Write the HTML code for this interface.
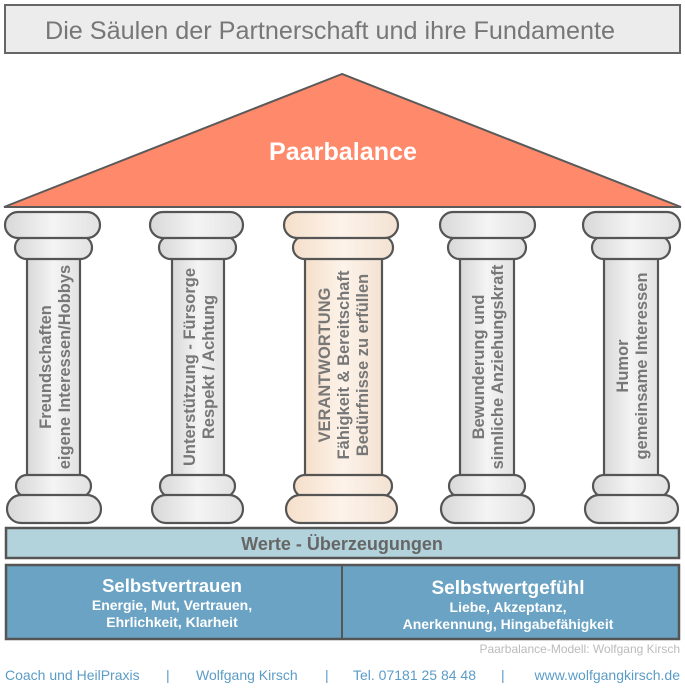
<!DOCTYPE html>
<html><head><meta charset="utf-8"><style>
html,body{margin:0;padding:0;background:#fff;}
svg{display:block;font-family:"Liberation Sans",Arial,sans-serif;}
</style></head><body>
<svg width="685" height="690" viewBox="0 0 685 690" xmlns="http://www.w3.org/2000/svg">
<defs>
<linearGradient id="g" x1="0" x2="1" y1="0" y2="0"><stop offset="0" stop-color="#d8d8d8"/><stop offset="0.5" stop-color="#f4f4f4"/><stop offset="1" stop-color="#e2e2e2"/></linearGradient>
<linearGradient id="p" x1="0" x2="1" y1="0" y2="0"><stop offset="0" stop-color="#f5dfca"/><stop offset="0.5" stop-color="#fdf3ea"/><stop offset="1" stop-color="#f3e2d2"/></linearGradient>
</defs>
<rect x="5" y="5" width="675" height="48" fill="#ececec" stroke="#666" stroke-width="2"/>
<text x="45" y="39" font-size="25" fill="#777" textLength="570" lengthAdjust="spacingAndGlyphs">Die Säulen der Partnerschaft und ihre Fundamente</text>
<polygon points="342,74 4,207 681,207" fill="#FF8A6B" stroke="#5a5a5a" stroke-width="2"/>
<text x="343" y="160" font-size="25" font-weight="bold" fill="#fff" text-anchor="middle" textLength="148" lengthAdjust="spacingAndGlyphs">Paarbalance</text>

<g stroke="#555" stroke-width="2.2" fill="url(#g)">
 <rect x="27" y="255" width="53" height="224"/>
 <rect x="15" y="236" width="77" height="23" rx="11.5"/><rect x="5" y="212" width="95" height="26" rx="13"/>
 <rect x="16" y="475" width="75" height="22" rx="11"/><rect x="7" y="495" width="94" height="28" rx="14"/>
 <rect x="172" y="255" width="52" height="224"/>
 <rect x="159" y="236" width="77" height="23" rx="11.5"/><rect x="150" y="212" width="93" height="26" rx="13"/>
 <rect x="160" y="475" width="75" height="22" rx="11"/><rect x="152" y="495" width="91" height="28" rx="14"/>
 <rect x="460" y="255" width="54" height="224"/>
 <rect x="448" y="236" width="78" height="23" rx="11.5"/><rect x="440" y="212" width="95" height="26" rx="13"/>
 <rect x="449" y="475" width="76" height="22" rx="11"/><rect x="441" y="495" width="93" height="28" rx="14"/>
 <rect x="604" y="255" width="54" height="224"/>
 <rect x="592" y="236" width="78" height="23" rx="11.5"/><rect x="583" y="212" width="97" height="26" rx="13"/>
 <rect x="593" y="475" width="76" height="22" rx="11"/><rect x="585" y="495" width="93" height="28" rx="14"/>
</g>
<g stroke="#555" stroke-width="2.2" fill="url(#p)">
 <rect x="305" y="255" width="77" height="224"/>
 <rect x="293" y="236" width="100" height="23" rx="11.5"/><rect x="284" y="212" width="114" height="26" rx="13"/>
 <rect x="294" y="475" width="98" height="22" rx="11"/><rect x="286" y="495" width="111" height="28" rx="14"/>
</g>
<g font-size="16.5" font-weight="bold" fill="#777" text-anchor="middle">
 <text transform="translate(54,367) rotate(-90)"><tspan x="0" y="-3">Freundschaften</tspan><tspan x="0" y="16">eigene Interessen/Hobbys</tspan></text>
 <text transform="translate(198,367) rotate(-90)"><tspan x="0" y="-3">Unterstützung - Fürsorge</tspan><tspan x="0" y="16">Respekt / Achtung</tspan></text>
 <text transform="translate(343,365) rotate(-90)"><tspan x="0" y="-13">VERANTWORTUNG</tspan><tspan x="0" y="6">Fähigkeit &amp; Bereitschaft</tspan><tspan x="0" y="25">Bedürfnisse zu erfüllen</tspan></text>
 <text transform="translate(487,367) rotate(-90)"><tspan x="0" y="-3">Bewunderung und</tspan><tspan x="0" y="16">sinnliche Anziehungskraft</tspan></text>
 <text transform="translate(631,366) rotate(-90)"><tspan x="0" y="-3">Humor</tspan><tspan x="0" y="16">gemeinsame Interessen</tspan></text>
</g>

<rect x="6" y="528" width="673" height="30" fill="#B3D3DC" stroke="#555" stroke-width="2.5"/>
<text x="342" y="550" font-size="18" font-weight="bold" fill="#666" text-anchor="middle">Werte - Überzeugungen</text>
<rect x="6" y="565" width="673" height="74" fill="#6AA3C4" stroke="#555" stroke-width="2.5"/>
<line x1="342" y1="565" x2="342" y2="639" stroke="#555" stroke-width="2"/>
<g fill="#fff" font-weight="bold" text-anchor="middle">
 <text x="172" y="592" font-size="18.5">Selbstvertrauen</text>
 <text x="172" y="610" font-size="14">Energie, Mut, Vertrauen,</text>
 <text x="172" y="627" font-size="14">Ehrlichkeit, Klarheit</text>
 <text x="508" y="594" font-size="19">Selbstwertgefühl</text>
 <text x="508" y="612" font-size="14">Liebe, Akzeptanz,</text>
 <text x="508" y="629" font-size="14">Anerkennung, Hingabefähigkeit</text>
</g>
<text x="680" y="653" font-size="12" fill="#bbb" text-anchor="end">Paarbalance-Modell: Wolfgang Kirsch</text>
<g font-size="14" fill="#5b9cc6">
 <text x="5" y="680">Coach und HeilPraxis</text>
 <text x="166" y="680">|</text>
 <text x="196" y="680">Wolfgang Kirsch</text>
 <text x="325" y="680">|</text>
 <text x="353" y="680">Tel. 07181 25 84 48</text>
 <text x="501" y="680">|</text>
 <text x="680" y="680" text-anchor="end">www.wolfgangkirsch.de</text>
</g>
</svg>
</body></html>
